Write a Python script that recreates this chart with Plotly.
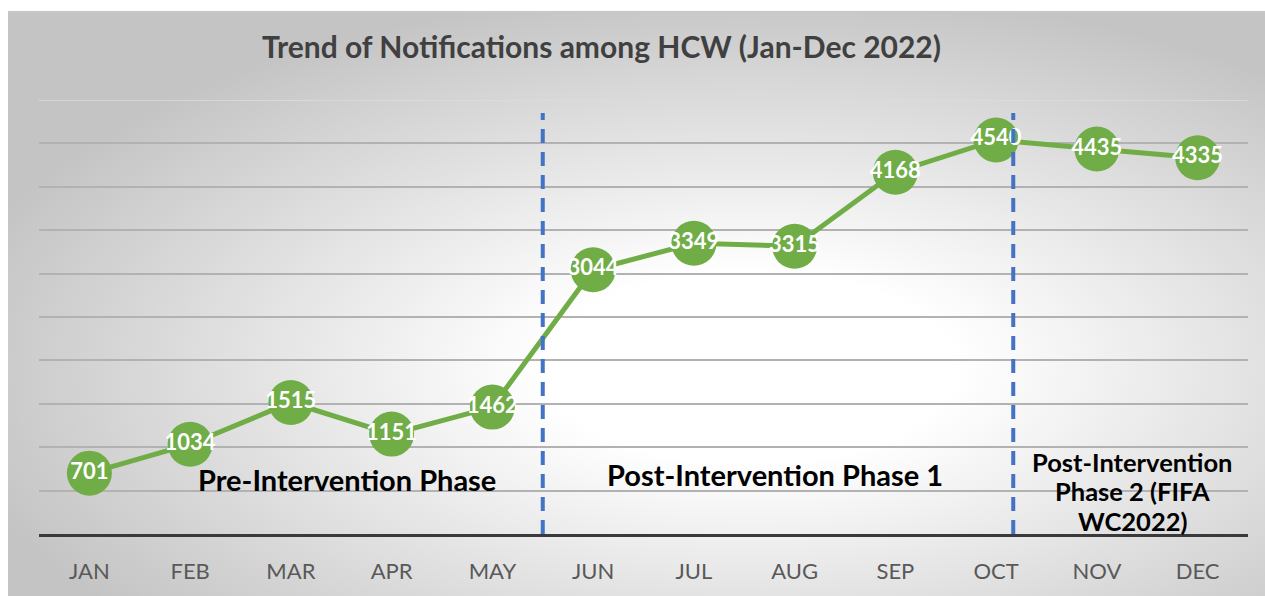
import base64
import plotly.graph_objects as go

months = ["JAN", "FEB", "MAR", "APR", "MAY", "JUN", "JUL", "AUG", "SEP", "OCT", "NOV", "DEC"]
notifications = [701, 1034, 1515, 1151, 1462, 3044, 3349, 3315, 4168, 4540, 4435, 4335]
phase_boundaries = [4.5, 9.17]
grid_values = [500, 1000, 1500, 2000, 2500, 3000, 3500, 4000, 4500]

W, H = 1265, 596
L, R, T, B = 39, 17, 100, 58
pw, ph = W - L - R, H - T - B

def px_x(p):
    return (p - L) / pw

def px_y(p):
    return (H - B - p) / ph

GREEN = "#70AD47"
BLUE = "#4472C4"
FONT = "Lato"

# background panel drawn slightly larger than the page so it reaches the right/bottom edges
BG_W, BG_H = 1280, 600
svg = (
    f'<svg xmlns="http://www.w3.org/2000/svg" width="{BG_W}" height="{BG_H}" viewBox="0 0 {BG_W} {BG_H}" '
    'preserveAspectRatio="none"><defs><radialGradient id="g" cx="0.58" cy="0.6" r="0.64">'
    '<stop offset="0" stop-color="#ffffff"/><stop offset="0.25" stop-color="#ffffff"/>'
    '<stop offset="1" stop-color="#c4c4c4"/></radialGradient></defs>'
    f'<rect width="{BG_W}" height="{BG_H}" fill="url(#g)"/>'
    f'<rect width="{BG_W}" height="2" fill="#c8c8c8"/></svg>'
)
src = "data:image/svg+xml;base64," + base64.b64encode(svg.encode()).decode()

fig = go.Figure()
fig.add_trace(go.Scatter(
    x=months, y=notifications, mode="lines+markers+text",
    line=dict(color=GREEN, width=5),
    marker=dict(color=GREEN, size=45, line=dict(width=0)),
    text=[str(v) for v in notifications], textposition="middle center",
    textfont=dict(color="white", size=22, family=FONT, weight="bold"),
    cliponaxis=False, hoverinfo="skip", showlegend=False,
))

for xb in phase_boundaries:
    fig.add_shape(type="line", xref="x", yref="y", x0=xb, x1=xb, y0=0, y1=4850,
                  line=dict(color=BLUE, width=4, dash="14px,9px"), layer="above")

fig.add_shape(type="line", xref="paper", yref="y", x0=0, x1=1, y0=5000, y1=5000,
              line=dict(color="#dcdcdc", width=1.5), layer="below")

fig.add_layout_image(dict(source=src, xref="paper", yref="paper",
                          x=px_x(8), y=px_y(10), sizex=BG_W / pw, sizey=BG_H / ph,
                          xanchor="left", yanchor="top", sizing="stretch", layer="below"))

fig.add_annotation(text="<b>Trend of Notifications among HCW (Jan-Dec 2022)</b>",
                   xref="paper", yref="paper", x=px_x(601), y=px_y(45),
                   xanchor="center", yanchor="middle",
                   showarrow=False, font=dict(size=30, color="#404040", family=FONT))
fig.add_annotation(text="<b>Pre-Intervention Phase</b>", xref="x", yref="y", x=2.56, y=630,
                   xanchor="center", yanchor="middle",
                   showarrow=False, font=dict(size=29, color="black", family=FONT))
fig.add_annotation(text="<b>Post-Intervention Phase 1</b>", xref="x", yref="y", x=6.81, y=690,
                   xanchor="center", yanchor="middle",
                   showarrow=False, font=dict(size=29, color="black", family=FONT))
for line_text, yv in [("Post-Intervention", 835), ("Phase 2 (FIFA", 492), ("WC2022)", 150)]:
    fig.add_annotation(text="<b>" + line_text + "</b>", xref="x", yref="y",
                       x=10.35, y=yv, showarrow=False, xanchor="center", yanchor="middle",
                       font=dict(size=25.5, color="black", family=FONT))

fig.update_layout(
    width=W, height=H, margin=dict(l=L, r=R, t=T, b=B),
    paper_bgcolor="white", plot_bgcolor="rgba(0,0,0,0)",
    xaxis=dict(type="category", range=[-0.5, 11.5], showgrid=False,
               showline=True, linecolor="#3a3a3a", linewidth=3, ticks="",
               tickfont=dict(size=22, color="#595959", family=FONT), ticklabelstandoff=16),
    yaxis=dict(range=[0, 5000], tickvals=grid_values, showticklabels=False,
               showgrid=True, gridcolor="#b2b2b2", gridwidth=1.5, zeroline=False, showline=False),
)

fig.write_html(
    "out.html",
    config={"displayModeBar": False},
    post_script=(
        "document.body.style.margin='0';"
        "document.body.style.overflow='hidden';"
        "document.documentElement.style.overflow='hidden';"
    ),
)
